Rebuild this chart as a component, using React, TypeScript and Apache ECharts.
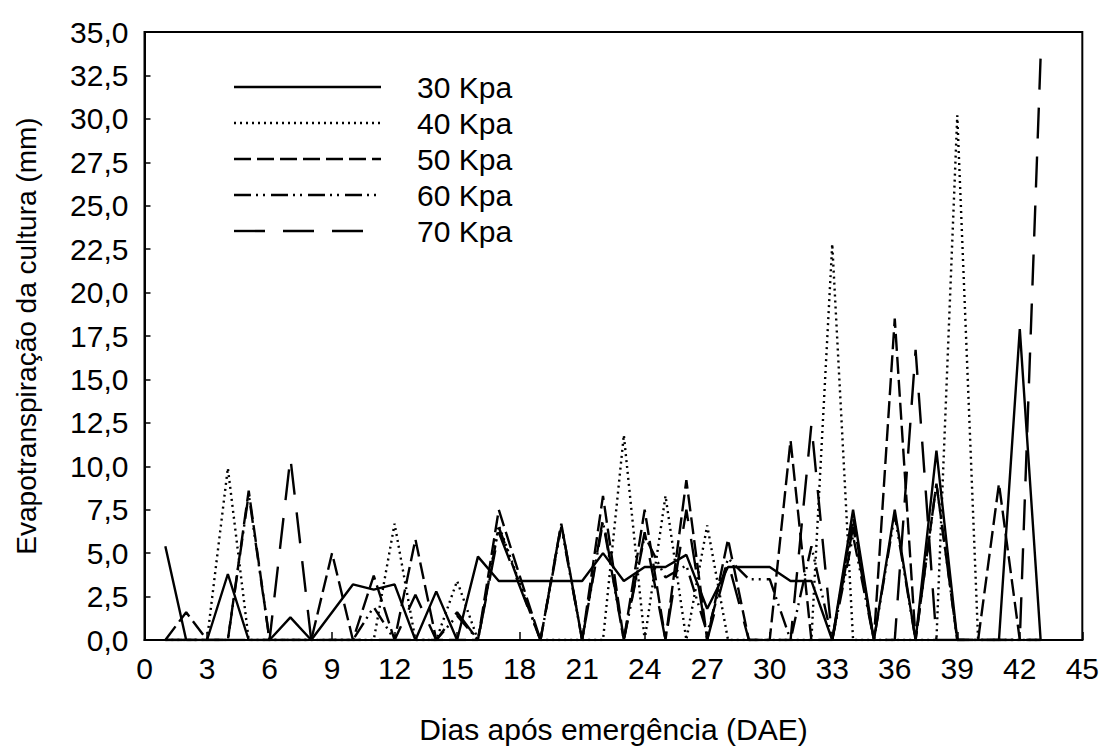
import React, { useEffect, useRef } from "react";
import * as echarts from "echarts";

const days = [1,2,3,4,5,6,7,8,9,10,11,12,13,14,15,16,17,18,19,20,21,22,23,24,25,26,27,28,29,30,31,32,33,34,35,36,37,38,39,40,41,42,43];

const kpa30 = [5.4,0,0,3.8,0,0,1.3,0,1.6,3.2,2.9,3.2,0,2.8,0,4.8,3.4,3.4,3.4,3.4,3.4,5.0,3.4,4.2,4.2,4.9,1.8,4.2,4.2,4.2,3.4,3.4,0,7.5,0,7.5,0,10.9,0,0,0,17.9,0];
const kpa40 = [0,0,0,9.9,0,0,0,0,0,0,0,6.7,0,0,3.4,0,6.6,3.3,0,0,0,0,11.8,0,8.3,0,6.6,0,0,0,0,0,22.8,0,0,0,0,0,30.2,0,0,0,0];
const kpa50 = [0,1.6,0,0,8.6,0,0,0,5.0,0,3.7,0,5.8,0,0,0,7.5,3.7,0,6.7,0,8.3,0,7.5,0,9.2,0,5.8,0,0,11.5,0,0,7.0,0,18.5,0,9.0,0,0,9.0,0,0];
const kpa60 = [0,0,0,0,8.4,0,0,0,0,0,1.9,0,0,0,1.4,0,6.5,3.2,0,6.5,0,6.8,0,6.0,3.6,4.3,0.4,4.7,3.5,3.5,0,5.4,0,6.0,0,7.2,0,9.0,0,0,0,0,0];
const kpa70 = [0,0,0,0,0,0,10.5,0,0,0,0,0,2.6,0,1.6,0,6.2,3.1,0,6.7,0,7.0,0,6.2,0,7.5,0,4.5,0,0,0,12.4,0,6.5,0,0,16.7,0,0,0,0,0,33.6];

const seriesNames = ["30 Kpa", "40 Kpa", "50 Kpa", "60 Kpa", "70 Kpa"];
const seriesValues = [kpa30, kpa40, kpa50, kpa60, kpa70];
const dashStyles: any[] = ["solid", [2, 4], [17, 6], [17, 5, 2, 5, 2, 6], [31, 18]];

const FONT = "'Liberation Sans', Arial, Helvetica, sans-serif";

export default function App() {
  const ref = useRef<HTMLDivElement>(null);
  useEffect(() => {
    if (!ref.current) return;
    const chart = echarts.init(ref.current, null, { renderer: "svg" });
    const series = seriesNames.map((name, i) => ({
      name,
      type: "line",
      data: days.map((d, j) => [d, seriesValues[i][j]]),
      symbol: "none",
      lineStyle: { color: "#000", width: 2.4, type: dashStyles[i] },
      itemStyle: { color: "#000" },
    }));
    const legendGraphics: any[] = [];
    seriesNames.forEach((name, i) => {
      const y = 87 + i * 36;
      legendGraphics.push({
        type: "line",
        shape: { x1: 234, y1: y, x2: 381, y2: y },
        style: {
          stroke: "#000",
          lineWidth: 2.4,
          lineDash: dashStyles[i] === "solid" ? null : dashStyles[i],
        },
        silent: true,
      });
      legendGraphics.push({
        type: "text",
        x: 417,
        y,
        style: {
          text: name,
          fill: "#000",
          fontSize: 30,
          fontFamily: FONT,
          verticalAlign: "middle",
          align: "left",
        },
        silent: true,
      });
    });
    chart.setOption({
      animation: false,
      backgroundColor: "#fff",
      grid: {
        left: 144.5,
        right: 19,
        top: 32,
        bottom: 99,
        show: true,
        borderColor: "#000",
        borderWidth: 2,
        backgroundColor: "transparent",
      },
      graphic: legendGraphics,
      xAxis: {
        type: "value",
        min: 0,
        max: 45,
        interval: 3,
        name: "Dias após emergência (DAE)",
        nameLocation: "middle",
        nameGap: 74,
        nameTextStyle: { fontSize: 30, fontFamily: FONT, color: "#000" },
        axisLine: { show: true, lineStyle: { color: "#000", width: 2 } },
        axisTick: { show: true, inside: true, length: 8, lineStyle: { color: "#000", width: 1.5 } },
        axisLabel: { fontSize: 30, fontFamily: FONT, color: "#000", margin: 13 },
        splitLine: { show: false },
      },
      yAxis: {
        type: "value",
        min: 0,
        max: 35,
        interval: 2.5,
        name: "Evapotranspiração da cultura (mm)",
        nameLocation: "middle",
        nameGap: 104,
        nameRotate: 90,
        nameTextStyle: { fontSize: 28, fontFamily: FONT, color: "#000" },
        axisLine: { show: true, lineStyle: { color: "#000", width: 2 } },
        axisTick: { show: true, inside: true, length: 6, lineStyle: { color: "#000", width: 1.5 } },
        axisLabel: {
          fontSize: 30,
          fontFamily: FONT,
          color: "#000",
          margin: 16,
          formatter: (v: number) => v.toFixed(1).replace(".", ","),
        },
        splitLine: { show: false },
      },
      series,
    });
    return () => chart.dispose();
  }, []);
  return (
    <div
      ref={ref}
      style={{ position: "absolute", left: 0, top: 0, width: 1102, height: 749, background: "#fff" }}
    />
  );
}
